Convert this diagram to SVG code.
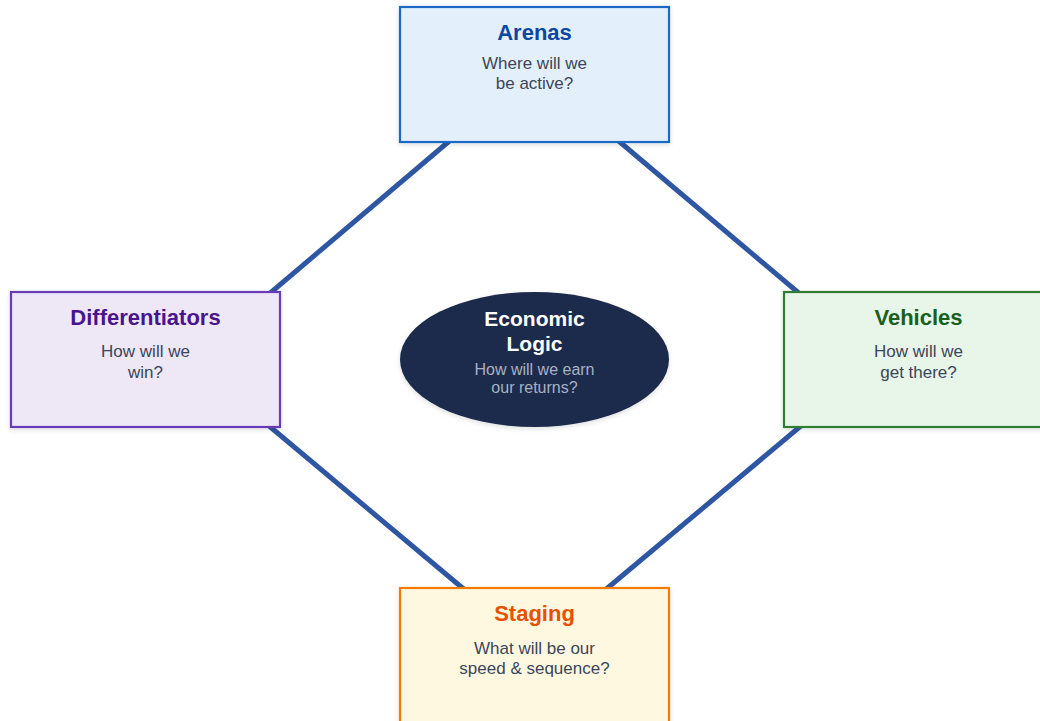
<svg xmlns="http://www.w3.org/2000/svg" width="1040" height="721" viewBox="0 0 1040 721">
  <defs>
    <filter id="shadow" x="-10%" y="-10%" width="120%" height="130%">
      <feDropShadow dx="0" dy="2" stdDeviation="2.5" flood-color="#000000" flood-opacity="0.12"/>
    </filter>
    <style>
      .link { stroke: #2f56a2; stroke-width: 5; fill: none; }
      .box { stroke-width: 2.2; filter: url(#shadow); }
      .title { font-family: "Liberation Sans", Arial, sans-serif; font-weight: bold; font-size: 22px; text-anchor: middle; }
      .sub { font-family: "Liberation Sans", Arial, sans-serif; font-size: 17px; fill: #3c4658; text-anchor: middle; }
      .ctitle { font-family: "Liberation Sans", Arial, sans-serif; font-weight: bold; font-size: 21px; fill: #ffffff; text-anchor: middle; }
      .csub { font-family: "Liberation Sans", Arial, sans-serif; font-size: 16px; fill: #a7b2c4; text-anchor: middle; }
    </style>
  </defs>

  <rect width="1040" height="721" fill="#ffffff"/>

  <!-- connectors forming the diamond between the four outer boxes -->
  <g id="connectors">
    <line class="link" x1="460" y1="132" x2="262" y2="300"/>
    <line class="link" x1="608" y1="132" x2="807" y2="300"/>
    <line class="link" x1="262" y1="420" x2="472" y2="596"/>
    <line class="link" x1="808" y1="420" x2="598" y2="596"/>
  </g>

  <g id="arenas">
    <rect class="box" x="400" y="7" width="269" height="135" fill="#e3f0fc" stroke="#1f68c2"/>
    <text class="title" x="534.5" y="40" fill="#0d47a1">Arenas</text>
    <text class="sub" x="534.5" y="69">Where will we</text>
    <text class="sub" x="534.5" y="89">be active?</text>
  </g>

  <g id="differentiators">
    <rect class="box" x="11" y="292" width="269" height="135" fill="#ede7f6" stroke="#673ab7"/>
    <text class="title" x="145.5" y="325" fill="#4a148c">Differentiators</text>
    <text class="sub" x="145.5" y="357">How will we</text>
    <text class="sub" x="145.5" y="378">win?</text>
  </g>

  <g id="vehicles">
    <rect class="box" x="784" y="292" width="269" height="135" fill="#e8f5e9" stroke="#2e7d32"/>
    <text class="title" x="918.5" y="325" fill="#1b5e20">Vehicles</text>
    <text class="sub" x="918.5" y="357">How will we</text>
    <text class="sub" x="918.5" y="378">get there?</text>
  </g>

  <g id="staging">
    <rect class="box" x="400" y="588" width="269" height="135" fill="#fff8e1" stroke="#f57c00"/>
    <text class="title" x="534.5" y="621" fill="#e65100">Staging</text>
    <text class="sub" x="534.5" y="654">What will be our</text>
    <text class="sub" x="534.5" y="674">speed &amp; sequence?</text>
  </g>

  <g id="economic-logic">
    <ellipse cx="534.5" cy="359.5" rx="134.5" ry="67.5" fill="#1c2a4b" filter="url(#shadow)"/>
    <text class="ctitle" x="534.5" y="326">Economic</text>
    <text class="ctitle" x="534.5" y="351">Logic</text>
    <text class="csub" x="534.5" y="375">How will we earn</text>
    <text class="csub" x="534.5" y="393">our returns?</text>
  </g>
</svg>
